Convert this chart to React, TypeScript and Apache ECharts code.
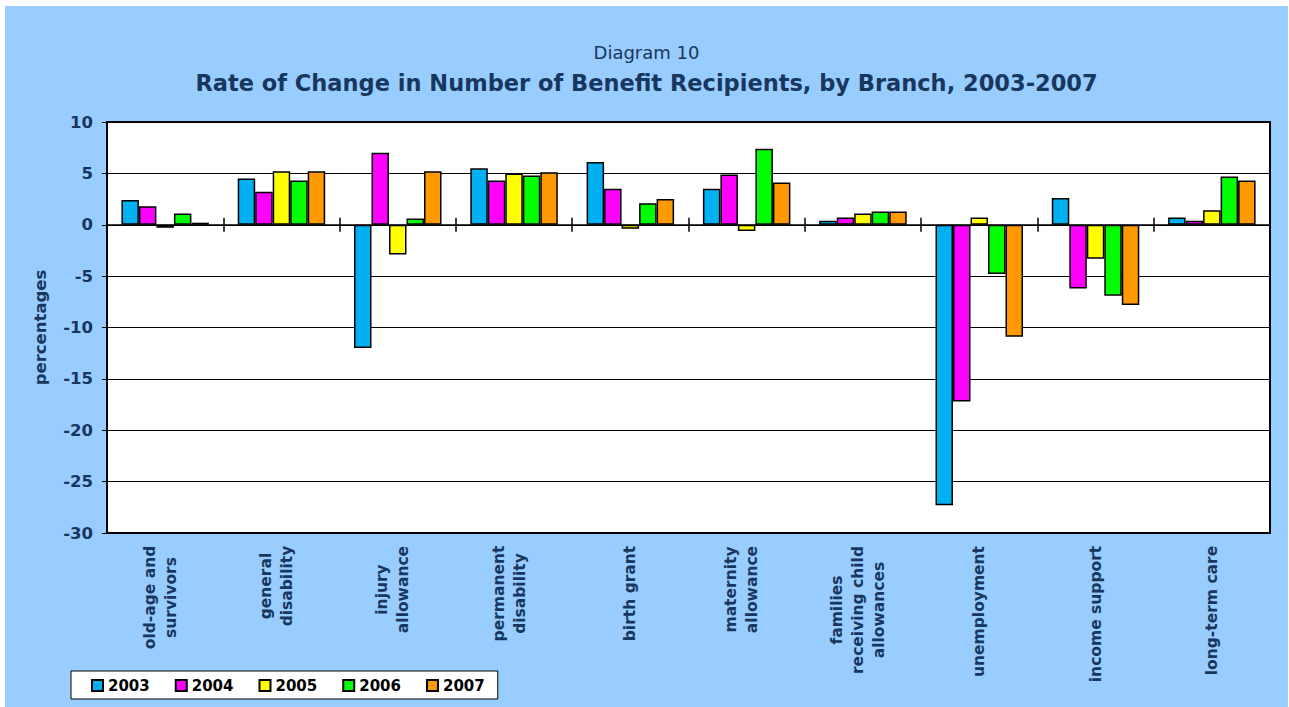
import React, { useEffect, useRef } from "react";
import * as echarts from "echarts";

const categories = [
  "old-age and\nsurvivors",
  "general\ndisability",
  "injury\nallowance",
  "permanent\ndisability",
  "birth grant",
  "maternity\nallowance",
  "families\nreceiving child\nallowances",
  "unemployment",
  "income support",
  "long-term care",
];

const years = ["2003", "2004", "2005", "2006", "2007"];

const v2003 = [2.4, 4.5, -12.0, 5.5, 6.1, 3.5, 0.4, -27.3, 2.6, 0.7];
const v2004 = [1.8, 3.2, 7.0, 4.3, 3.5, 4.9, 0.7, -17.2, -6.2, 0.4];
const v2005 = [-0.3, 5.2, -2.9, 5.0, -0.4, -0.6, 1.1, 0.7, -3.3, 1.4];
const v2006 = [1.1, 4.3, 0.6, 4.8, 2.1, 7.4, 1.3, -4.8, -6.9, 4.7];
const v2007 = [0.2, 5.2, 5.2, 5.1, 2.5, 4.1, 1.3, -10.9, -7.8, 4.3];

const seriesValues = [v2003, v2004, v2005, v2006, v2007];
const colors = ["#00B0F0", "#FF00FF", "#FFFF00", "#00FF00", "#FF9900"];

const yMin = -30;
const yMax = 10;
const yInterval = 5;

const titleTop = "Diagram 10";
const titleMain = "Rate of Change in Number of Benefit Recipients, by Branch, 2003-2007";
const yName = "percentages";

export default function App() {
  const ref = useRef<HTMLDivElement>(null);

  useEffect(() => {
    if (!ref.current) return;
    const chart = echarts.init(ref.current, null, { renderer: "svg" });
    const font = "DejaVu Sans";
    const navy = "#17375E";
    const labelSize = 15.5;

    const ctx = document.createElement("canvas").getContext("2d")!;
    ctx.font = `bold ${labelSize}px "${font}"`;
    const rich: Record<string, any> = {};
    categories.forEach((c, i) => {
      const w = Math.max(...c.split("\n").map((l) => ctx.measureText(l).width));
      rich["r" + i] = {
        width: Math.ceil(w) + 1,
        align: "center",
        fontSize: labelSize,
        fontWeight: "bold",
        fontFamily: font,
        color: navy,
        lineHeight: 21,
      };
    });

    const labelData = categories.map((c) =>
      c.includes("\n") ? { value: c, textStyle: { padding: [0, 0, 10, 0] } } : c
    );

    const option: any = {
      animation: false,
      backgroundColor: "#99CCFF",
      textStyle: { fontFamily: font },
      title: [
        {
          text: titleTop,
          left: "center",
          top: 32,
          textStyle: { fontSize: 18, fontWeight: "normal", color: navy, fontFamily: font },
        },
        {
          text: titleMain,
          left: "center",
          top: 60,
          textStyle: { fontSize: 22.5, fontWeight: "bold", color: navy, fontFamily: font },
        },
      ],
      legend: {
        data: years,
        left: 66,
        top: 665,
        orient: "horizontal",
        icon: "rect",
        itemWidth: 11,
        itemHeight: 11,
        itemGap: 25,
        padding: [7, 13, 6, 20],
        backgroundColor: "#ffffff",
        borderColor: "#000000",
        borderWidth: 1,
        textStyle: { fontSize: 15, fontWeight: "bold", color: "#000", fontFamily: font },
      },
      grid: {
        left: 102,
        right: 18,
        top: 116,
        bottom: 174,
        show: true,
        backgroundColor: "#ffffff",
        borderColor: "#000000",
        borderWidth: 2,
        containLabel: false,
      },
      xAxis: [
        {
          type: "category",
          data: labelData,
          position: "bottom",
          axisLine: { show: false, onZero: false },
          axisTick: { show: false },
          axisLabel: {
            rotate: 90,
            margin: 12,
            interval: 0,
            formatter: (value: string, index: number) =>
              value
                .split("\n")
                .map((l) => `{r${index}|${l}}`)
                .join("\n"),
            rich,
          },
        },
        {
          type: "category",
          data: categories,
          position: "bottom",
          axisLine: { show: true, onZero: true, onZeroAxisIndex: 0, lineStyle: { color: "#000", width: 1.5 } },
          axisTick: { show: true, interval: 0, length: 7, inside: false, lineStyle: { color: "#000", width: 1.5 } },
          axisLabel: { show: false, interval: 0 },
          splitLine: { show: false },
        },
        {
          type: "category",
          data: categories,
          position: "top",
          axisLine: { show: false, onZero: true, onZeroAxisIndex: 0 },
          axisTick: { show: true, interval: 0, length: 7, inside: false, lineStyle: { color: "#000", width: 1.5 } },
          axisLabel: { show: false, interval: 0 },
          splitLine: { show: false },
        },
      ],
      yAxis: {
        type: "value",
        min: yMin,
        max: yMax,
        interval: yInterval,
        name: yName,
        nameLocation: "middle",
        nameRotate: 90,
        nameGap: 58,
        nameTextStyle: { fontSize: 16.5, fontWeight: "bold", color: navy, fontFamily: font },
        axisLine: { show: true, lineStyle: { color: "#000", width: 1.5 } },
        axisTick: { show: true, length: 5, lineStyle: { color: "#000" } },
        axisLabel: { margin: 14, fontSize: 16.5, fontWeight: "bold", color: navy, fontFamily: font },
        splitLine: { show: true, lineStyle: { color: "#000", width: 1 } },
      },
      series: years.map((y, i) => ({
        name: y,
        type: "bar",
        xAxisIndex: 0,
        data: seriesValues[i],
        barWidth: 17.5,
        barGap: "0%",
        itemStyle: { color: colors[i], borderColor: "#000", borderWidth: 1.5 },
      })),
    };

    chart.setOption(option);
    return () => chart.dispose();
  }, []);

  return (
    <div
      ref={ref}
      style={{ position: "absolute", left: 5, top: 6, width: 1283, height: 701 }}
    />
  );
}
